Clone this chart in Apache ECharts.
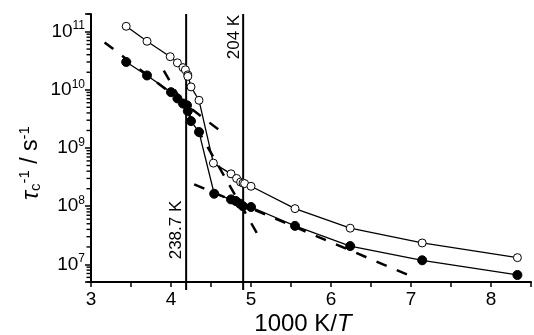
<!DOCTYPE html>
<html><head><meta charset="utf-8">
<script src="https://cdn.jsdelivr.net/npm/echarts@6/dist/echarts.min.js"></script>
<style>html,body{margin:0;padding:0;background:#fff}#c{width:534px;height:335px}</style>
</head><body><div id="c"></div>
<script>
// open circles
const xOpen = [3.44, 3.70, 3.99, 4.08, 4.15, 4.18, 4.21, 4.21, 4.25, 4.35, 4.53, 4.75, 4.82, 4.87, 4.90, 4.92, 5.00, 5.55, 6.24, 7.14, 8.33];
const yOpen = [1.23e11, 6.8e10, 3.7e10, 2.9e10, 2.4e10, 2.2e10, 1.8e10, 1.7e10, 1.12e10, 6.6e9, 5.5e8, 3.6e8, 3.0e8, 2.6e8, 2.5e8, 2.45e8, 2.2e8, 9.1e7, 4.2e7, 2.34e7, 1.31e7];
// filled circles
const xFill = [3.44, 3.70, 4.00, 4.08, 4.15, 4.20, 4.21, 4.25, 4.35, 4.54, 4.75, 4.81, 4.86, 4.90, 5.00, 5.55, 6.24, 7.14, 8.33];
const yFill = [3.0e10, 1.76e10, 9.1e9, 7.1e9, 5.8e9, 5.4e9, 4.3e9, 2.9e9, 1.88e9, 1.64e8, 1.31e8, 1.23e8, 1.11e8, 1.0e8, 9.7e7, 4.6e7, 2.07e7, 1.18e7, 6.6e6];
// dashed fit lines (end points)
const fit1X = [3.17, 4.63], fit1Y = [6.5e10, 1.9e9];
const fit2X = [3.91, 5.14], fit2Y = [2.14e10, 2.4e7];
const fit3X = [4.29, 7.00], fit3Y = [2.38e8, 6.3e6];
// transition temperatures (K)
const transTemps = [238.7, 204];
const transLabels = ['238.7 K', '204 K'];
// axes
const xMin = 3, xMax = 8.5, yMin = 5e6, yMax = 2e11;
const yDecades = [6, 7, 8, 9, 10, 11];

const FONT = 'Liberation Sans, Arial, sans-serif';
const zip = (a, b) => a.map((v, i) => [v, b[i]]);

const minorTicks = [];
yDecades.forEach(d => { for (let m = 2; m <= 9; m++) { const v = m * Math.pow(10, d); if (v >= yMin && v <= yMax) minorTicks.push([xMin, v]); } });

const chart = echarts.init(document.getElementById('c'), null, {renderer: 'canvas'});
const dashStyle = {color: '#000', width: 2.5, type: [11, 11]};
function fitSeries(xs, ys) {
  return {type: 'line', data: zip(xs, ys), symbol: 'none', lineStyle: dashStyle, silent: true, z: 1};
}
chart.setOption({
  animation: false,
  backgroundColor: '#fff',
  grid: {left: 91, right: 1, top: 14, bottom: 53},
  xAxis: {
    type: 'value', min: xMin, max: xMax, interval: 0.5,
    axisLine: {onZero: false, lineStyle: {color: '#000', width: 2}},
    axisTick: {length: 5, lineStyle: {color: '#000', width: 1.5}},
    axisLabel: {formatter: v => Number.isInteger(v) ? String(v) : '', fontSize: 19, color: '#000', fontFamily: FONT, margin: 8},
    splitLine: {show: false}
  },
  yAxis: {
    type: 'log', logBase: 10, min: yMin, max: yMax,
    axisLine: {onZero: false, lineStyle: {color: '#000', width: 2}},
    axisTick: {length: 6, lineStyle: {color: '#000', width: 1.5}},
    axisLabel: {
      margin: 6, color: '#000', fontFamily: FONT,
      formatter: v => { const e = Math.log10(v); return Math.abs(e - Math.round(e)) < 1e-6 ? '{b|10}{s|' + Math.round(e) + '}' : ''; },
      rich: {b: {fontSize: 19, fontFamily: FONT, color: '#000'}, s: {fontSize: 12, fontFamily: FONT, color: '#000', padding: [0, 0, 11, 0]}}
    },
    splitLine: {show: false}
  },
  series: [
    fitSeries(fit1X, fit1Y),
    fitSeries(fit2X, fit2Y),
    fitSeries(fit3X, fit3Y),
    {
      type: 'custom', silent: true, clip: false, z: 3,
      data: transTemps.map(t => [1000 / t, yMax]),
      renderItem: (params, api) => {
        const top = api.coord([api.value(0), yMax]);
        const bot = api.coord([api.value(0), yMin]);
        return {type: 'line', shape: {x1: top[0], y1: top[1], x2: bot[0], y2: bot[1] + 8}, style: {stroke: '#000', lineWidth: 2}};
      }
    },
    {
      type: 'custom', silent: true, clip: false, z: 3,
      data: minorTicks,
      renderItem: (params, api) => {
        const p = api.coord([api.value(0), api.value(1)]);
        return {type: 'line', shape: {x1: p[0] - 4.5, y1: p[1], x2: p[0], y2: p[1]}, style: {stroke: '#000', lineWidth: 1.4}};
      }
    },
    {
      type: 'line', data: zip(xOpen, yOpen), symbol: 'circle', symbolSize: 8, z: 5,
      lineStyle: {color: '#000', width: 1.3},
      itemStyle: {color: '#fff', borderColor: '#000', borderWidth: 1}
    },
    {
      type: 'line', data: zip(xFill, yFill), symbol: 'circle', symbolSize: 9, z: 5,
      lineStyle: {color: '#000', width: 1.3},
      itemStyle: {color: '#000', borderColor: '#000', borderWidth: 1}
    }
  ],
  graphic: [
    {type: 'text', x: 176.5, y: 230, rotation: Math.PI / 2, style: {text: transLabels[0], font: '17px ' + FONT, fill: '#000', textAlign: 'center', textVerticalAlign: 'middle'}},
    {type: 'text', x: 234, y: 37, rotation: Math.PI / 2, style: {text: transLabels[1], font: '17px ' + FONT, fill: '#000', textAlign: 'center', textVerticalAlign: 'middle'}},
    {type: 'text', x: 303, y: 324, style: {text: '{n|1000 K/}{i|T}', textAlign: 'center', textVerticalAlign: 'middle',
      rich: {n: {fontSize: 24, fontFamily: FONT, fill: '#000'}, i: {fontSize: 24, fontFamily: FONT, fontStyle: 'italic', fill: '#000'}}}},
    {type: 'text', x: 31, y: 163, rotation: Math.PI / 2, style: {text: '{t|τ}{sub|c}{sup|-1}{n| / s}{sup|-1}', textAlign: 'center', textVerticalAlign: 'middle',
      rich: {t: {fontSize: 24, fontFamily: FONT, fontStyle: 'italic', fill: '#000'},
             sub: {fontSize: 15, fontFamily: FONT, fill: '#000', padding: [10, 0, 0, 0]},
             sup: {fontSize: 15, fontFamily: FONT, fill: '#000', padding: [0, 0, 12, 0]},
             n: {fontSize: 23, fontFamily: FONT, fill: '#000'}}}}
  ]
});
</script></body></html>
